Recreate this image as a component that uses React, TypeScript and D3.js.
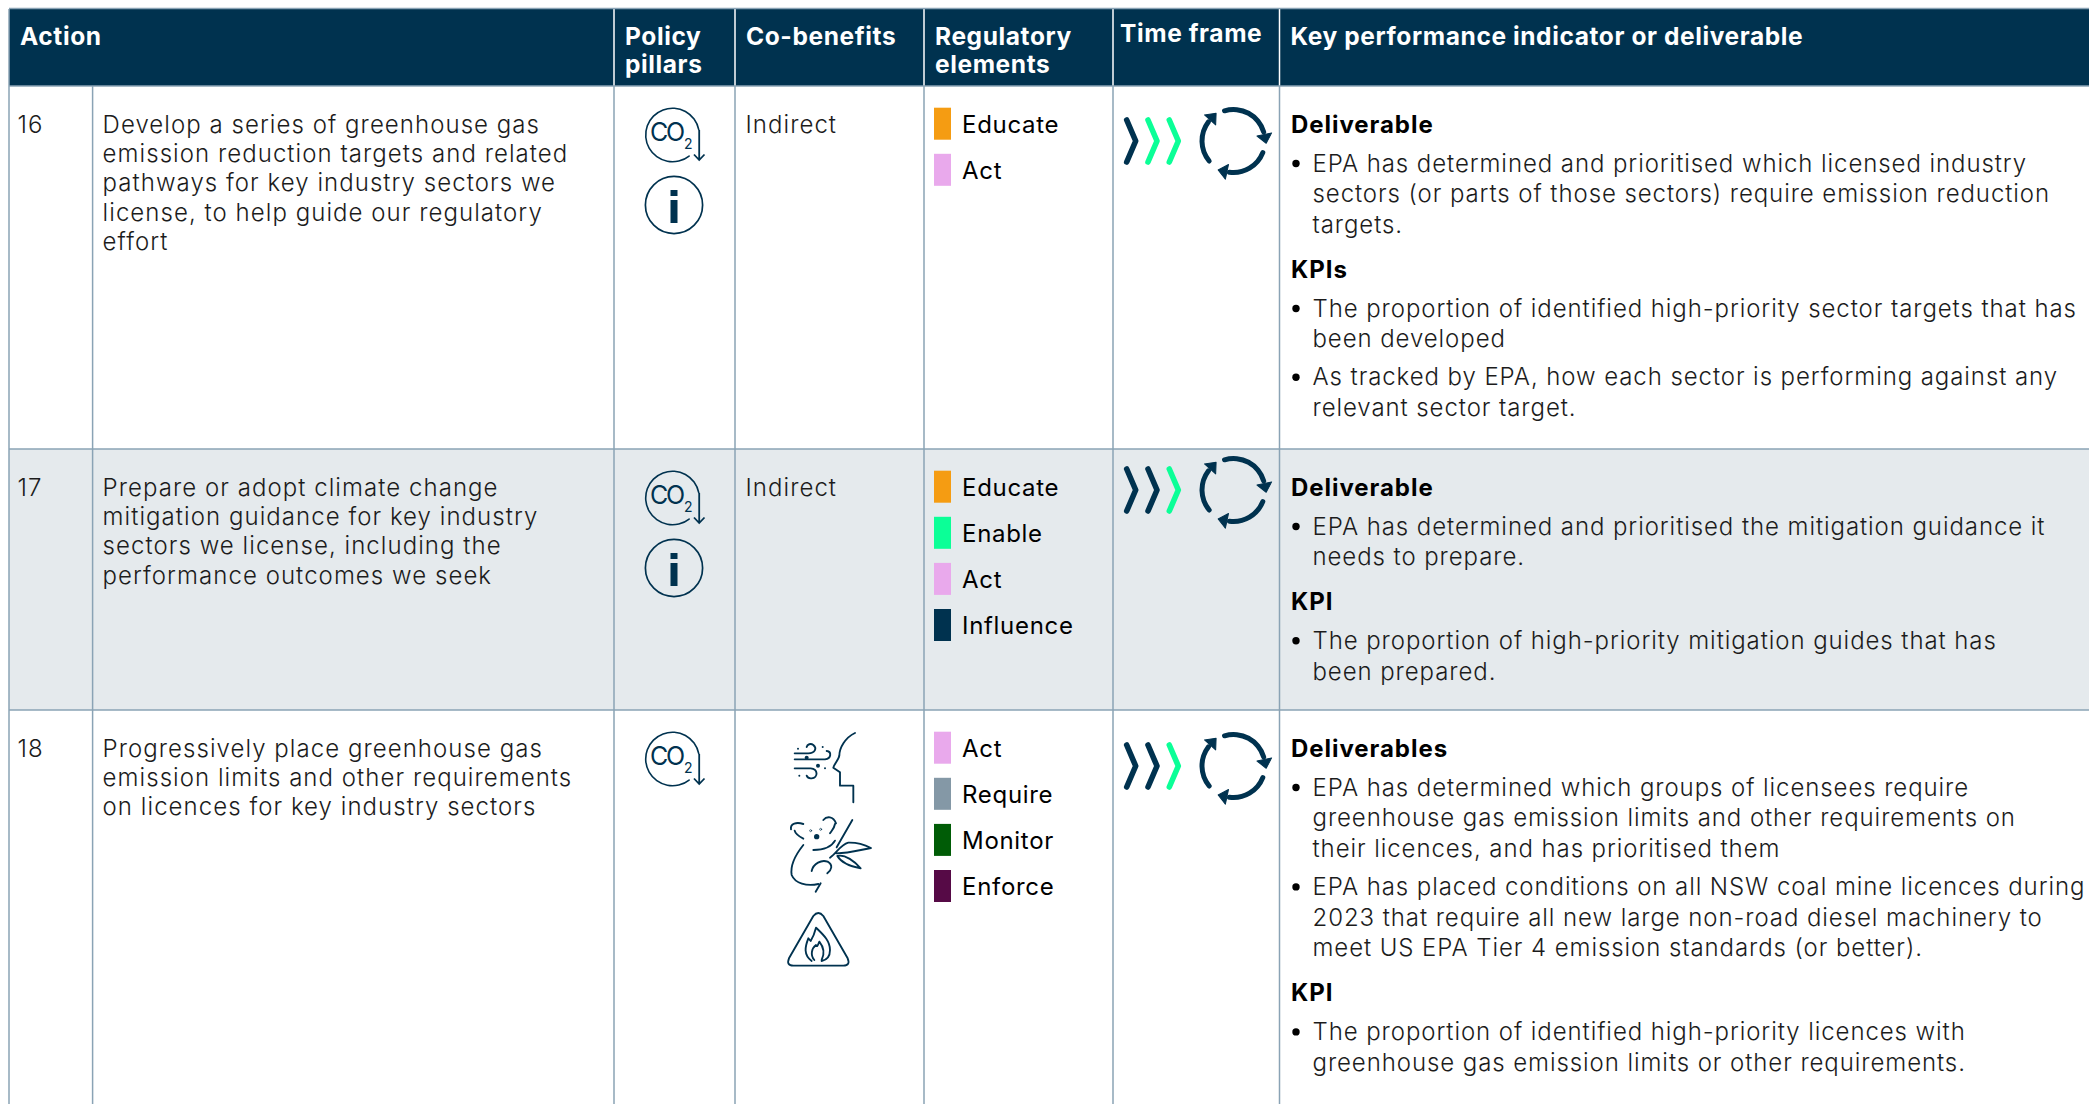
import React from 'react';
import * as d3 from 'd3';

const W = 2089;
const H = 1104;
const NAVY = '#00324f';
const GREEN = '#0bff97';
const RULE = '#8aa3b5';
const FONT = 'Inter, sans-serif';

const headers = [
  { lines: ['Action'], col: 0, dx: 0, dy: 0 },
  { lines: ['Policy', 'pillars'], col: 2, dx: 0, dy: 0 },
  { lines: ['Co-benefits'], col: 3, dx: 0, dy: 0 },
  { lines: ['Regulatory', 'elements'], col: 4, dx: 0, dy: 0 },
  { lines: ['Time frame'], col: 5, dx: -4, dy: -3 },
  { lines: ['Key performance indicator or deliverable'], col: 6, dx: 0, dy: 0 },
];

const actionIds = ['16', '17', '18'];
const actionTexts = [
  ['Develop a series of greenhouse gas', 'emission reduction targets and related', 'pathways for key industry sectors we', 'license, to help guide our regulatory', 'effort'],
  ['Prepare or adopt climate change', 'mitigation guidance for key industry', 'sectors we license, including the', 'performance outcomes we seek'],
  ['Progressively place greenhouse gas', 'emission limits and other requirements', 'on licences for key industry sectors'],
];
const pillars = [['co2', 'info'], ['co2', 'info'], ['co2']];
const coBenefits = ['Indirect', 'Indirect', null];
const regulatory = [
  ['Educate', 'Act'],
  ['Educate', 'Enable', 'Act', 'Influence'],
  ['Act', 'Require', 'Monitor', 'Enforce'],
];
const regNames = ['Educate', 'Enable', 'Act', 'Influence', 'Require', 'Monitor', 'Enforce'];
const regColors = ['#f59c12', '#0bff97', '#e9a9ec', '#00324f', '#8498a6', '#005c06', '#560a46'];
// dark chevrons out of three
const timeFrame = [1, 2, 2];
const kpis = [
  [
    { head: 'Deliverable', items: [['EPA has determined and prioritised which licensed industry', 'sectors (or parts of those sectors) require emission reduction', 'targets.']] },
    { head: 'KPIs', items: [['The proportion of identified high-priority sector targets that has', 'been developed'], ['As tracked by EPA, how each sector is performing against any', 'relevant sector target.']] },
  ],
  [
    { head: 'Deliverable', items: [['EPA has determined and prioritised the mitigation guidance it', 'needs to prepare.']] },
    { head: 'KPI', items: [['The proportion of high-priority mitigation guides that has', 'been prepared.']] },
  ],
  [
    { head: 'Deliverables', items: [['EPA has determined which groups of licensees require', 'greenhouse gas emission limits and other requirements on', 'their licences, and has prioritised them'], ['EPA has placed conditions on all NSW coal mine licences during', '2023 that require all new large non-road diesel machinery to', 'meet US EPA Tier 4 emission standards (or better).']] },
    { head: 'KPI', items: [['The proportion of identified high-priority licences with', 'greenhouse gas emission limits or other requirements.']] },
  ],
];

const colX = [9, 92.6, 614, 735, 924, 1113, 1279.5];
const rowY = [86, 449, 710, H + 2];
const headerTop = 9;
const timeOffset = [55, 41, 56];

const regColor = d3.scaleOrdinal<string, string>().domain(regNames).range(regColors);
const deg = (a: number) => (a * Math.PI) / 180;
const ring = d3.arc<{ a0: number; a1: number; r0: number; r1: number }>()
  .startAngle(d => deg(d.a0)).endAngle(d => deg(d.a1))
  .innerRadius(d => d.r0).outerRadius(d => d.r1).cornerRadius(3);
const chevX = d3.scaleLinear().domain([0, 1]).range([1126.7, 1148]);
const chevLine = d3.line<[number, number]>().curve(d3.curveLinear);

const body = { fontFamily: FONT, fontSize: 24, fontWeight: 300, fill: '#1c1c1c', letterSpacing: 1.05 };

function Co2({ y }: { y: number }) {
  return (
    <g transform={`translate(672.5,${y})`}>
      <path d={ring({ a0: 140, a1: 440, r0: 26, r1: 27.6 })!} fill={NAVY} />
      <text x={-22.5} y={6} fontFamily={FONT} fontSize={25} fontWeight={400} letterSpacing={-2.2} fill={NAVY}>CO</text>
      <text x={11.5} y={13.5} fontFamily={FONT} fontSize={14} fontWeight={400} fill={NAVY}>2</text>
      <path d="M26.7,-5V25M21.5,19.5L26.7,25L32,19.5" fill="none" stroke={NAVY} strokeWidth={1.8} />
    </g>
  );
}

function Info({ y }: { y: number }) {
  return (
    <g transform={`translate(674,${y})`}>
      <circle r={28.6} fill="none" stroke={NAVY} strokeWidth={1.7} />
      <rect x={-3.5} y={-15} width={7} height={6} fill={NAVY} />
      <rect x={-3.5} y={-5} width={7} height={23} fill={NAVY} />
    </g>
  );
}

function TimeFrame({ y, dark }: { y: number; dark: number }) {
  const arcs = [
    { a0: -21, a1: 78, tip: 78 },
    { a0: 107, a1: 192, tip: 192 },
    { a0: 226, a1: 312, tip: 312 },
  ];
  return (
    <g>
      {[0, 1, 2].map(i => (
        <path key={i}
          d={chevLine([[chevX(i), y - 21], [chevX(i) + 9, y], [chevX(i), y + 21]])!}
          fill="none" stroke={i < dark ? NAVY : GREEN} strokeWidth={5.6} strokeLinecap="round" strokeLinejoin="round" />
      ))}
      <g transform={`translate(1233.5,${y})`}>
        {arcs.map(a => (
          <g key={a.a0}>
            <path d={ring({ a0: a.a0, a1: a.a1, r0: 29, r1: 34 })!} fill={NAVY} />
            <path transform={`rotate(${a.tip}) translate(0,-31.5)`} d="M0,-7.5L9,0L0,7.5Z" fill={NAVY} stroke={NAVY} strokeWidth={1} strokeLinejoin="round" />
          </g>
        ))}
      </g>
    </g>
  );
}

function Hazards() {
  const line = { fill: 'none', stroke: NAVY, strokeWidth: 5.6, strokeLinecap: 'round' as const, strokeLinejoin: 'round' as const };
  return (
    <g>
      <g transform="translate(780,725) scale(0.3333)" {...line}>
        <path d="M225,24C195,38 178,70 178,92C176,105 162,118 160,128L180,142L180,182L220,182L220,232" />
        <path d="M44,85L85,85C105,85 112,70 100,60C92,54 82,58 80,66" />
        <path d="M44,103L135,103C155,100 155,80 140,78" />
        <path d="M44,130L92,130C115,132 115,158 95,160C88,161 82,157 80,152" />
        {[[54, 71, 3], [80, 98, 6], [128, 66, 3], [114, 122, 6], [135, 130, 3], [58, 152, 3]].map(([x, y, r]) => (
          <circle key={x} cx={x} cy={y} r={r} fill={NAVY} stroke="none" />
        ))}
      </g>
      <g transform="translate(780,810) scale(0.3333)" {...line}>
        <path d="M33,58C30,40 50,35 70,42" />
        <path d="M44,62C46,72 55,78 70,86" />
        <path d="M130,30C140,18 160,18 168,40" />
        <path d="M165,42C163,55 155,62 150,70" />
        <circle cx={110} cy={80} r={8} fill={NAVY} stroke="none" />
        <circle cx={92} cy={62} r={3} strokeWidth={2} />
        <circle cx={122} cy={58} r={3} strokeWidth={2} />
        <path d="M217,30L170,112" />
        <path d="M100,120C130,120 155,110 165,92" />
        <path d="M70,105C50,130 30,165 35,195C45,220 80,230 115,222" />
        <path d="M95,183C100,160 125,148 143,155C160,165 155,180 142,190" />
        <path d="M122,220L107,245" />
        <path d="M150,143C170,130 180,105 205,98C230,97 255,105 273,114C240,120 205,130 170,130" />
        <path d="M172,138C195,132 225,155 242,175C215,170 185,160 172,138" />
      </g>
      <g transform="translate(780,905) scale(0.3333)" {...line}>
        <path d="M100,33Q115,15 130,33L203,160Q212,182 190,182L40,182Q18,182 27,160Z" />
        <path d="M95,168C70,150 75,125 85,100L92,108C100,95 105,80 108,68C125,85 150,105 150,135C150,155 140,165 125,168" />
        <path d="M103,165C90,150 95,130 108,120C112,130 115,115 118,110C130,125 135,145 125,165" />
      </g>
    </g>
  );
}

function KpiCell({ blocks, top }: { blocks: typeof kpis[number]; top: number }) {
  const x = colX[6] + 11.5;
  const out: React.ReactNode[] = [];
  let y = top + 46.5;
  blocks.forEach((b, bi) => {
    if (bi > 0) y += 44.6;
    out.push(<text key={`h${bi}`} x={x} y={y} fontFamily={FONT} fontSize={24} fontWeight={700} letterSpacing={0.95} fill="#000">{b.head}</text>);
    y += 39;
    b.items.forEach((lines, ii) => {
      if (ii > 0) y += 38;
      out.push(<circle key={`b${bi}${ii}`} cx={x + 5} cy={y - 8} r={3.7} fill="#000" />);
      lines.forEach((l, li) => {
        if (li > 0) y += 30.7;
        out.push(<text key={`l${bi}${ii}${li}`} x={x + 21.5} y={y} {...body} letterSpacing={0.92}>{l}</text>);
      });
    });
  });
  return <g>{out}</g>;
}

export default function App() {
  return (
    <svg width={W} height={H} viewBox={`0 0 ${W} ${H}`} style={{ position: 'absolute', left: 0, top: 0, display: 'block', background: '#fff' }}>
      <rect x={colX[0]} y={headerTop} width={W - colX[0]} height={rowY[0] - headerTop} fill={NAVY} />
      <rect x={colX[0]} y={rowY[1]} width={W - colX[0]} height={rowY[2] - rowY[1]} fill="#e5eaed" />

      {headers.map(h => h.lines.map((l, i) => (
        <text key={l} x={colX[h.col] + 11 + h.dx} y={44.7 + h.dy + i * 28.5} fontFamily={FONT} fontSize={24.5} fontWeight={700} letterSpacing={0.6} fill="#fff">{l}</text>
      )))}
      {colX.slice(2).map(x => <line key={x} x1={x} x2={x} y1={headerTop} y2={rowY[0]} stroke="#fff" strokeWidth={1.5} />)}

      {colX.map(x => <line key={x} x1={x} x2={x} y1={rowY[0]} y2={H} stroke={RULE} strokeWidth={1.5} />)}
      <line x1={colX[0]} x2={colX[0]} y1={headerTop} y2={rowY[0]} stroke={RULE} strokeWidth={1.5} />
      {[headerTop - 0.5, rowY[0], rowY[1], rowY[2]].map(y => <line key={y} x1={colX[0]} x2={W} y1={y} y2={y} stroke={RULE} strokeWidth={1.5} />)}

      {actionIds.map((id, r) => {
        const top = rowY[r];
        return (
          <g key={id}>
            <text x={17.5} y={top + 46.7} {...body}>{id}</text>
            {actionTexts[r].map((l, i) => <text key={l} x={colX[1] + 10} y={top + 46.7 + i * 29.3} {...body}>{l}</text>)}
            {pillars[r].map(p => p === 'co2' ? <Co2 key={p} y={top + 49} /> : <Info key={p} y={top + 119} />)}
            {coBenefits[r] && <text x={colX[3] + 10.5} y={top + 46.7} {...body}>{coBenefits[r]}</text>}
            {regulatory[r].map((name, i) => (
              <g key={name}>
                <rect x={934} y={top + 21.7 + i * 46.1} width={17} height={32} fill={regColor(name)} />
                <text x={962} y={top + 46.7 + i * 46.1} fontFamily={FONT} fontSize={24} fontWeight={400} letterSpacing={0.7} fill="#000">{name}</text>
              </g>
            ))}
            <TimeFrame y={top + timeOffset[r]} dark={timeFrame[r]} />
            <KpiCell blocks={kpis[r]} top={top} />
          </g>
        );
      })}
      <Hazards />
    </svg>
  );
}
